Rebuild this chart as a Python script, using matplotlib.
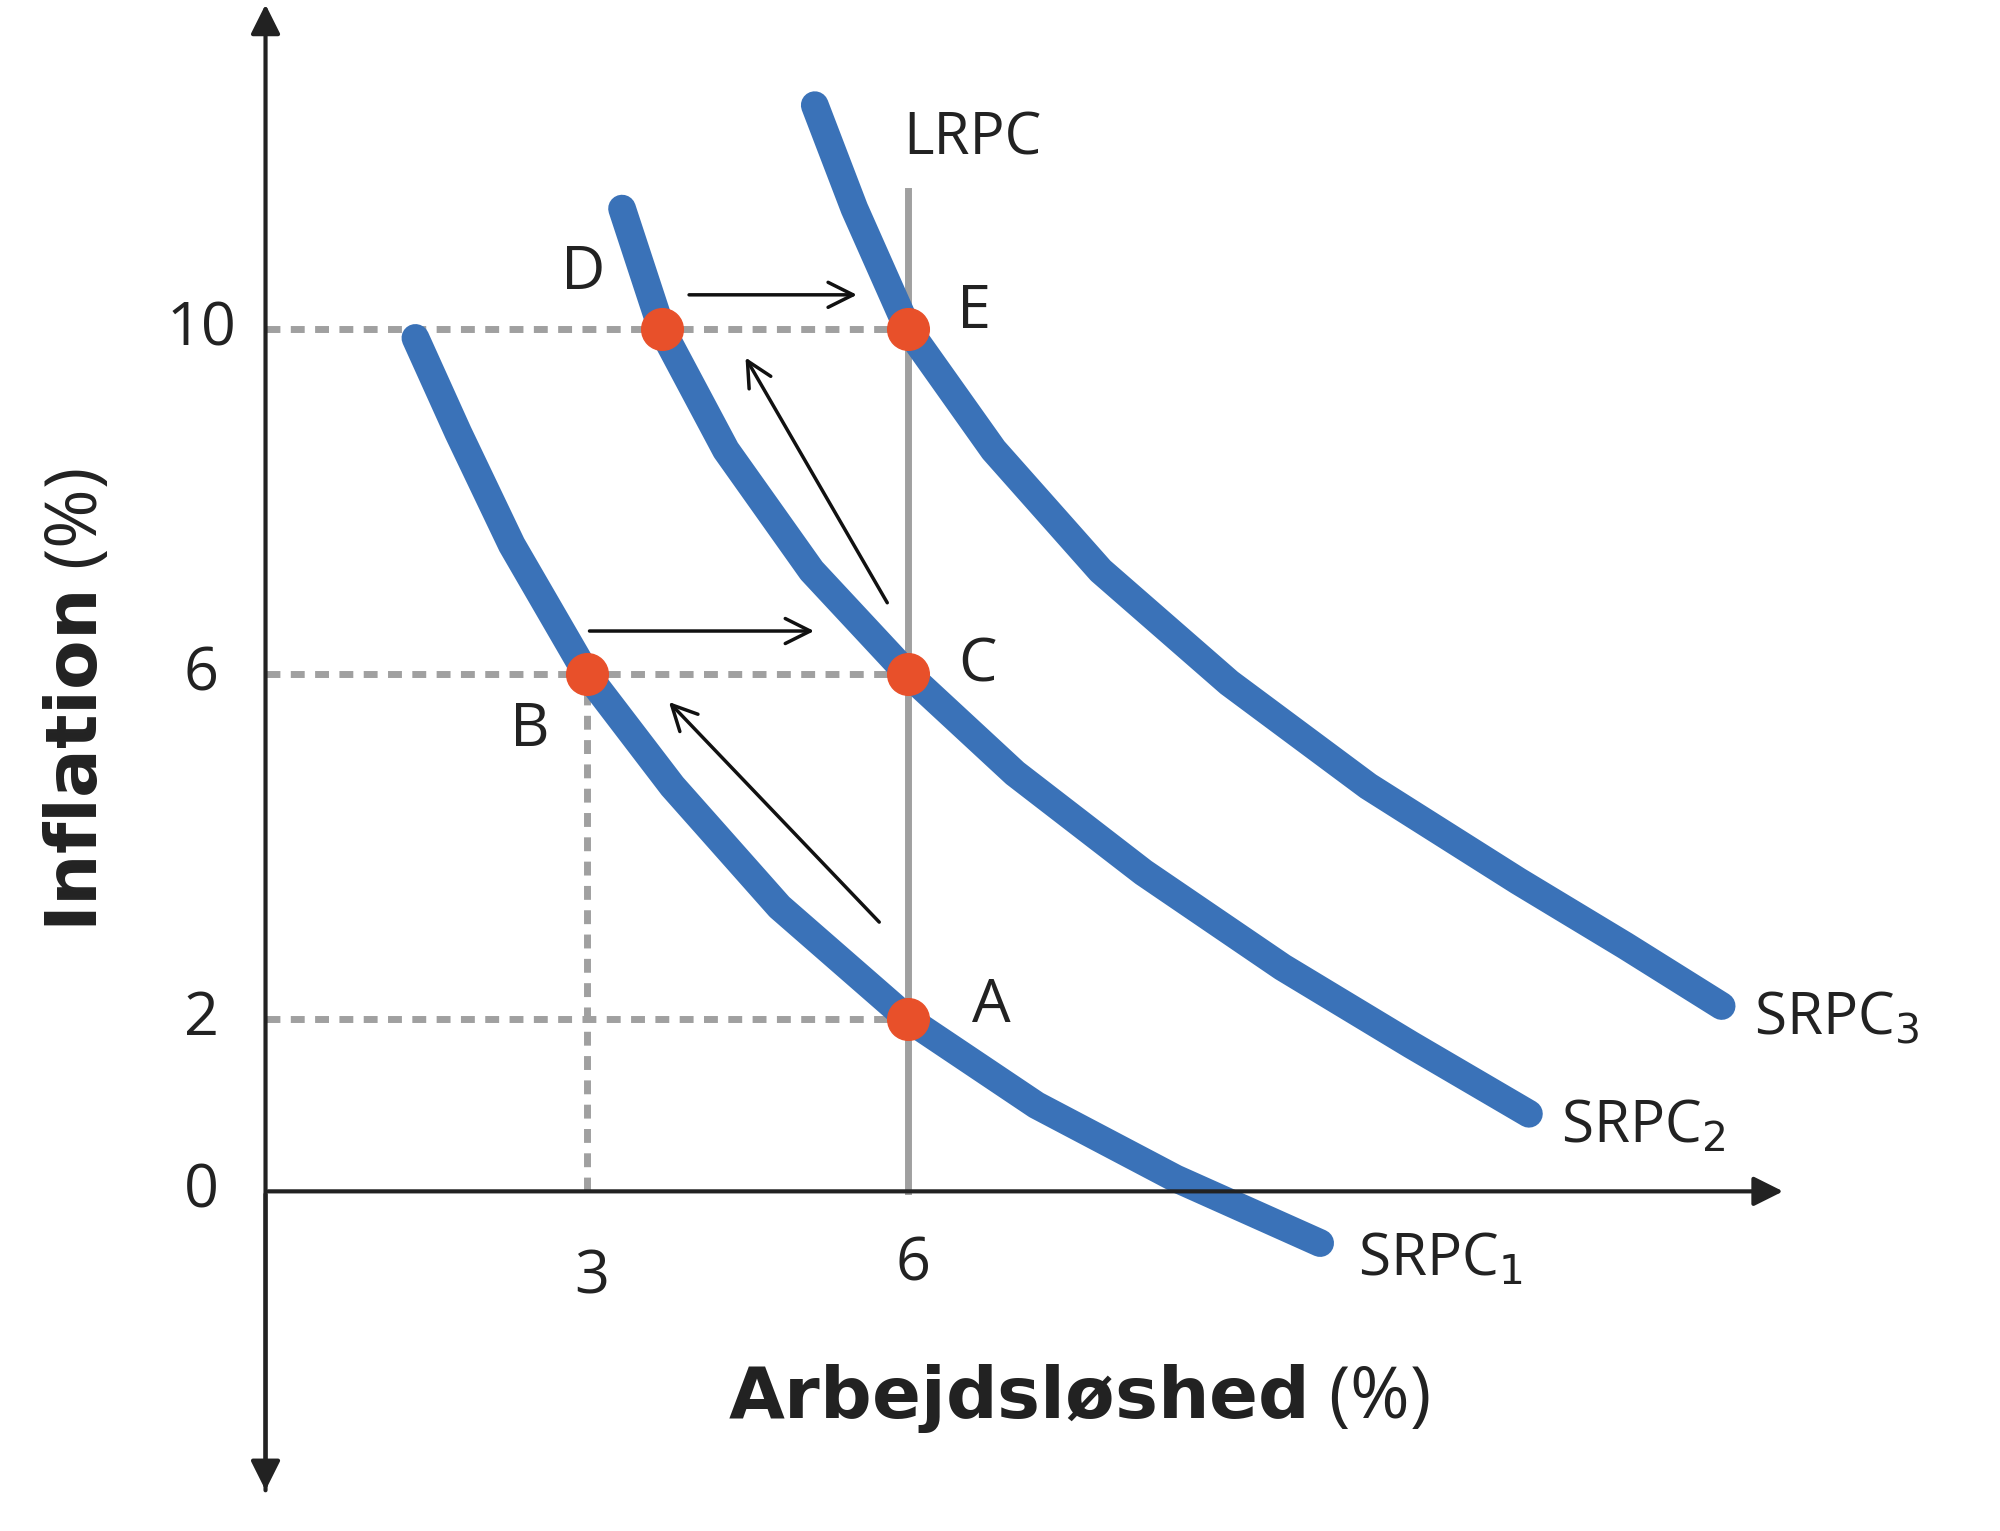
import matplotlib
matplotlib.use("Agg")
import matplotlib.pyplot as plt

plt.rcParams['font.family'] = ['Open Sans', 'DejaVu Sans']

# data (unemployment %, inflation %)
srpc1_x = [1.4, 1.8, 2.3, 3.0, 3.8, 4.8, 6.0, 7.2, 8.5, 9.85]
srpc1_y = [9.9, 8.8, 7.5, 6.0, 4.7, 3.3, 2.0, 1.0, 0.15, -0.6]
srpc2_x = [3.33, 3.7, 4.3, 5.1, 6.0, 7.0, 8.2, 9.5, 10.7, 11.8]
srpc2_y = [11.4, 10.0, 8.6, 7.2, 6.0, 4.85, 3.7, 2.6, 1.7, 0.9]
srpc3_x = [5.13, 5.5, 6.0, 6.8, 7.8, 9.0, 10.3, 11.7, 12.7, 13.6]
srpc3_y = [12.6, 11.4, 10.0, 8.6, 7.2, 5.9, 4.7, 3.6, 2.85, 2.15]
points = {'A': (6, 2), 'B': (3, 6), 'C': (6, 6), 'D': (3.7, 10), 'E': (6, 10)}
label_pos = {'A': (6.78, 2.15), 'B': (2.47, 5.35), 'C': (6.65, 6.1),
             'D': (2.97, 10.65), 'E': (6.62, 10.2)}
arrows = [((3.93, 10.4), (5.55, 10.4)), ((3.0, 6.5), (5.15, 6.5)),
          ((5.75, 3.1), (3.75, 5.7)), ((5.82, 6.8), (4.47, 9.7))]
yticks = [0, 2, 6, 10]
xticks = [3, 6]

blue = '#3a72b8'
red = '#e8502a'
grey = '#a0a0a0'
ink = '#222222'

fig = plt.figure(figsize=(20, 15.31), dpi=100)
ax = fig.add_axes([0, 0, 1, 1])
ax.set_xlim(-2.48, 16.2)
ax.set_ylim(-3.94, 13.82)
ax.axis('off')

# dashed guides
for y in [2, 6, 10]:
    ax.plot([0, 6], [y, y], ls=(0, (2, 1.5)), color=grey, lw=5)
ax.plot([3, 3], [0, 6], ls=(0, (2, 1.5)), color=grey, lw=5)

# LRPC
ax.plot([6, 6], [0, 11.6], color=grey, lw=5)
ax.text(6.6, 12.2, 'LRPC', fontsize=42, ha='center', va='center', color=ink)

# axes with arrows
ax.annotate('', xy=(0, 13.8), xytext=(0, -3.5),
            arrowprops=dict(arrowstyle='-|>', lw=3, color=ink, mutation_scale=45))
ax.annotate('', xy=(0, -3.5), xytext=(0, 0),
            arrowprops=dict(arrowstyle='-|>', lw=3, color=ink, mutation_scale=45))
ax.annotate('', xy=(14.2, 0), xytext=(0, 0),
            arrowprops=dict(arrowstyle='-|>', lw=3, color=ink, mutation_scale=45))

# curves
for xs, ys in [(srpc1_x, srpc1_y), (srpc2_x, srpc2_y), (srpc3_x, srpc3_y)]:
    ax.plot(xs, ys, color=blue, lw=20, solid_capstyle='round', solid_joinstyle='round')
ax.text(10.2, -0.8, r'SRPC$_1$', fontsize=42, va='center', color=ink)
ax.text(12.1, 0.75, r'SRPC$_2$', fontsize=42, va='center', color=ink)
ax.text(13.9, 2.0, r'SRPC$_3$', fontsize=42, va='center', color=ink)

# movement arrows
for (x0, y0), (x1, y1) in arrows:
    ax.annotate('', xy=(x1, y1), xytext=(x0, y0),
                arrowprops=dict(arrowstyle='->', lw=2.5, color='#111111', mutation_scale=45))

# points
for k, (x, y) in points.items():
    ax.plot(x, y, 'o', color=red, ms=30, zorder=5)
    lx, ly = label_pos[k]
    ax.text(lx, ly, k, fontsize=44, ha='center', va='center', color=ink)

# ticks
for y in yticks:
    ax.text(-0.6, y, str(y), fontsize=44, ha='center', va='center', color=ink)
ax.text(3.05, -1.0, '3', fontsize=44, ha='center', va='center', color=ink)
ax.text(6.05, -0.85, '6', fontsize=44, ha='center', va='center', color=ink)

# axis titles
ax.text(-1.75, 5.7, r'$\bf{Inflation}$ (%)', fontsize=52, rotation=90,
        ha='center', va='center', color=ink)
ax.text(7.6, -2.4, r'$\bf{Arbejdsløshed}$ (%)', fontsize=52,
        ha='center', va='center', color=ink)

fig.savefig('out.png', dpi=100)
